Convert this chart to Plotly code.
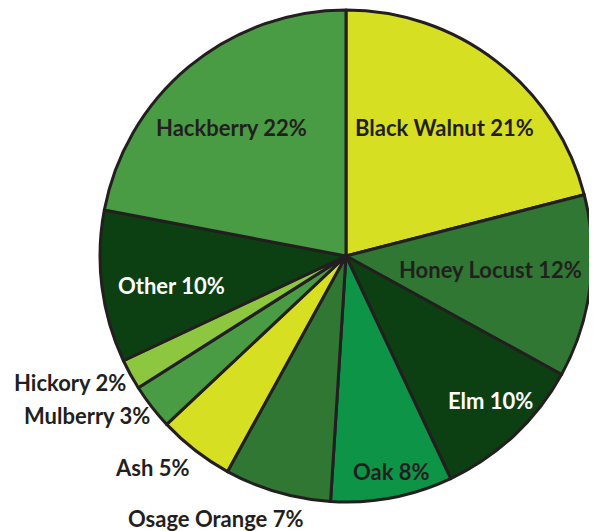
import math
import plotly.graph_objects as go

species = ['Black Walnut', 'Honey Locust', 'Elm', 'Oak', 'Osage Orange',
           'Ash', 'Mulberry', 'Hickory', 'Other', 'Hackberry']
percent = [21, 12, 10, 8, 7, 5, 3, 2, 10, 22]

colors = ['#d7df23', '#2f7732', '#0c4012', '#0d9447', '#2f7732',
          '#d7df23', '#4a9c44', '#8dc63f', '#0c4012', '#4a9c44']
text_colors = ['#231f20', '#231f20', '#ffffff', '#231f20', '#231f20',
               '#231f20', '#231f20', '#231f20', '#ffffff', '#231f20']
# label placement: (radius fraction, angle offset deg, outside?)
label_pos = [(0.66, -0.3, False), (0.59, -1.7, False), (0.83, -1.8, False),
             (0.895, -1.0, False), (1.08, -7.3, True), (1.065, -1.8, True),
             (1.02, -1.7, True), (1.025, -1.4, True), (0.72, -2.5, False),
             (0.70, -2.1, False)]

# page body has an 8px margin, so the figure is drawn 8px in from the corner
OFF = 8
W, H = 597 - OFF, 531 - OFF
cx, cy, R = 346 - OFF, 256 - OFF, 246

fig = go.Figure(go.Pie(
    labels=species,
    values=percent,
    sort=False,
    direction='clockwise',
    rotation=0,
    marker=dict(colors=colors, line=dict(color='#231f20', width=3)),
    textinfo='none',
    hoverinfo='label+percent',
    domain=dict(x=[(cx - R) / W, (cx + R) / W],
                y=[1 - (cy + R) / H, 1 - (cy - R) / H]),
    showlegend=False,
))

annotations = []
total = sum(percent)
cum = 0
for name, val, tc, (rf, off, outside) in zip(species, percent, text_colors, label_pos):
    mid = (cum + val / 2) / total * 360 + off
    cum += val
    px = cx + rf * R * math.sin(math.radians(mid))
    py = cy - rf * R * math.cos(math.radians(mid))
    annotations.append(dict(
        x=px / W, y=1 - py / H, xref='paper', yref='paper',
        text=f'{name} {val}%', showarrow=False,
        xanchor='right' if outside else 'center', yanchor='middle',
        font=dict(family='Lato', size=22, color=tc, weight='bold'),
    ))

fig.update_layout(
    width=W, height=H,
    margin=dict(l=0, r=0, t=0, b=0),
    paper_bgcolor='white',
    annotations=annotations,
)

fig.write_html("out.html")
